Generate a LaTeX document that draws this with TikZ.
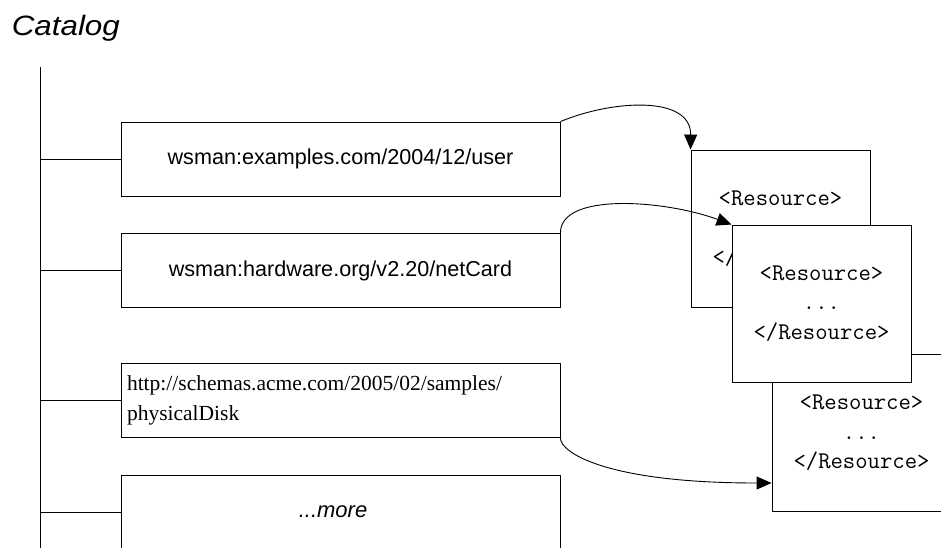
\documentclass[tikz,border=0pt]{standalone}
\usepackage{fontspec}
\usetikzlibrary{arrows.meta}
\newfontfamily\catsans{Liberation Sans}[FakeStretch=1.12]
\newfontfamily\plainsans{Liberation Sans}
\newfontfamily\urlserif{Liberation Serif}
\begin{document}
\begin{tikzpicture}[x=1pt, y=-1pt, line width=0.9pt,
        entry/.style={draw, rectangle, minimum width=439pt, minimum height=74pt, inner sep=0pt},
        resource/.style={draw, fill=white, rectangle, minimum width=179pt, minimum height=157pt,
            inner sep=0pt, align=center, font=\ttfamily\fontsize{24}{29.5}\selectfont},
        link/.style={-{Triangle[length=15pt, width=13pt]}}]
        \clip (0,0) rectangle (941,548);

        \node [anchor=base west, font=\catsans\itshape\fontsize{28}{34}\selectfont] (catalog) at (8,36) {Catalog};

        % catalog entries
        \node [entry, font=\plainsans\fontsize{21.6}{26}\selectfont] (user) at (340.5,159) {wsman:examples.com/2004/12/user};
        \node [entry, font=\plainsans\fontsize{21.6}{26}\selectfont] (netcard) at (340.5,270.5) {wsman:hardware.org/v2.20/netCard};
        \node [entry, text width=427pt, inner xsep=6pt, align=left, font=\urlserif\fontsize{21.5}{30}\selectfont] (disk) at (340.5,400.5) {http://schemas.acme.com/2005/02/samples/\\physicalDisk};
        \node [entry, font=\plainsans\itshape\fontsize{22}{26}\selectfont] (more) at (340.5,512) {...more\hspace*{15pt}};

        % tree
        \coordinate (top) at (40,67);
        \coordinate (bottom) at (40,548);
        \draw (top)--(bottom);
        \foreach \n in {user, netcard, disk, more}
            \draw (\n.west -| top)--(\n.west);

        % resources, back to front
        \node [resource] (rdisk) at (861.5,433) {<Resource>\\...\\</Resource>};
        \node [resource] (ruser) at (780.5,228.5) {<Resource>\\...\\</Resource>};
        \node [resource] (rnetcard) at (821.5,303.5) {<Resource>\\...\\</Resource>};

        \draw [link] (user.north east) .. controls (612,100) and (691,95) .. (ruser.north west);
        \draw [link] (netcard.north east) .. controls (560,192) and (665,200) .. (rnetcard.north west);
        \draw [link] (disk.south east) .. controls (560,452) and (605,483) .. (rdisk.west |- 0,483);
    \end{tikzpicture}
\end{document}
